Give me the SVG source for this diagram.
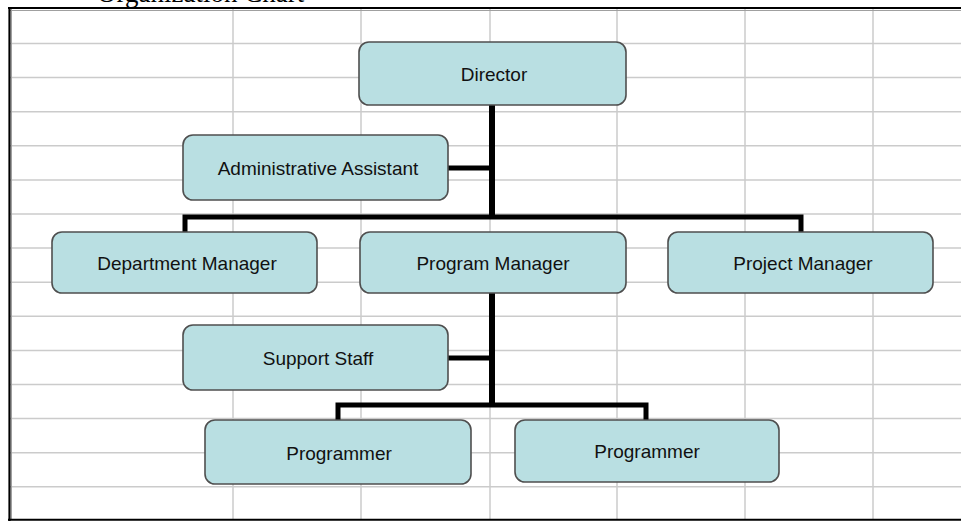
<svg xmlns="http://www.w3.org/2000/svg" width="961" height="521" viewBox="0 0 961 521">
<style>
.grid line{stroke:#cbcbcb;stroke-width:1.5}
.box{fill:#b9dfe2;stroke:#4f4f4f;stroke-width:1.6}
.lbl{font-family:"Liberation Sans",Arial,sans-serif;font-size:19px;fill:#111;text-anchor:middle}
.conn{stroke:#000;fill:none;stroke-width:5}
.title{font-family:"Liberation Serif","Times New Roman",serif;font-size:27px;fill:#000}
</style>
<rect x="0" y="0" width="961" height="521" fill="#fff"/>
<text class="title" x="97" y="1.5">Organization Chart</text>
<g class="grid">
<line x1="10" y1="43.5" x2="961" y2="43.5"/>
<line x1="10" y1="77.6" x2="961" y2="77.6"/>
<line x1="10" y1="111.7" x2="961" y2="111.7"/>
<line x1="10" y1="145.8" x2="961" y2="145.8"/>
<line x1="10" y1="179.9" x2="961" y2="179.9"/>
<line x1="10" y1="214" x2="961" y2="214"/>
<line x1="10" y1="248.1" x2="961" y2="248.1"/>
<line x1="10" y1="282.2" x2="961" y2="282.2"/>
<line x1="10" y1="316.3" x2="961" y2="316.3"/>
<line x1="10" y1="350.4" x2="961" y2="350.4"/>
<line x1="10" y1="384.5" x2="961" y2="384.5"/>
<line x1="10" y1="418.6" x2="961" y2="418.6"/>
<line x1="10" y1="452.7" x2="961" y2="452.7"/>
<line x1="10" y1="486.8" x2="961" y2="486.8"/>
<line x1="233" y1="9" x2="233" y2="519"/>
<line x1="361" y1="9" x2="361" y2="519"/>
<line x1="490" y1="9" x2="490" y2="519"/>
<line x1="617" y1="9" x2="617" y2="519"/>
<line x1="745" y1="9" x2="745" y2="519"/>
<line x1="873" y1="9" x2="873" y2="519"/>
</g>
<g id="frame">
<line x1="9.5" y1="10.5" x2="961" y2="10.5" stroke="#a0a0a0" stroke-width="1"/>
<line x1="11.5" y1="8" x2="11.5" y2="519" stroke="#a0a0a0" stroke-width="1"/>
<line x1="8" y1="8" x2="961" y2="8" stroke="#000" stroke-width="2.2"/>
<line x1="9.5" y1="7" x2="9.5" y2="521" stroke="#000" stroke-width="2.2"/>
<line x1="8" y1="519.8" x2="961" y2="519.8" stroke="#000" stroke-width="2"/>
</g>
<g id="connectors">
<path class="conn" d="M492 104 V217" style="stroke-width:6"/>
<path class="conn" d="M447 168 H492"/>
<path class="conn" d="M185 233 V217 H801 V233"/>
<path class="conn" d="M492 292 V405" style="stroke-width:6"/>
<path class="conn" d="M448 358 H492"/>
<path class="conn" d="M338 420 V405 H646 V420"/>
</g>
<g id="director"><rect class="box" x="359" y="42" width="267" height="63" rx="10"/><text class="lbl" x="494" y="81">Director</text></g>
<g id="admin-assistant"><rect class="box" x="183" y="135" width="265" height="65" rx="10"/><text class="lbl" x="318" y="175">Administrative Assistant</text></g>
<g id="department-manager"><rect class="box" x="52" y="232" width="265" height="61" rx="10"/><text class="lbl" x="187" y="270">Department Manager</text></g>
<g id="program-manager"><rect class="box" x="360" y="232" width="266" height="61" rx="10"/><text class="lbl" x="493" y="270">Program Manager</text></g>
<g id="project-manager"><rect class="box" x="668" y="232" width="265" height="61" rx="10"/><text class="lbl" x="803" y="270">Project Manager</text></g>
<g id="support-staff"><rect class="box" x="183" y="325" width="265" height="65" rx="10"/><text class="lbl" x="318" y="365">Support Staff</text></g>
<g id="programmer-1"><rect class="box" x="205" y="420" width="266" height="64" rx="10"/><text class="lbl" x="339" y="460">Programmer</text></g>
<g id="programmer-2"><rect class="box" x="515" y="420" width="264" height="62" rx="10"/><text class="lbl" x="647" y="458">Programmer</text></g>
</svg>
